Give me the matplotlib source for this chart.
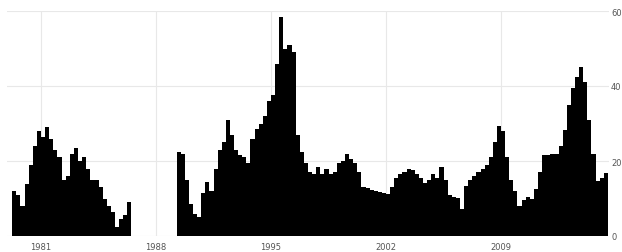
import matplotlib
matplotlib.use("Agg")
import matplotlib.pyplot as plt
import pandas as pd

# quarterly readings, two runs of data with a gap in the late 1980s
seg1_start = "1979Q2"
seg1_values = [12, 11, 8, 14, 19, 24, 28, 26.5, 29, 26, 23, 21, 15, 16, 22,
               23.5, 20, 21, 18, 15, 15, 13, 10, 8, 6.5, 2.5, 4.5, 5.5, 9]

seg2_start = "1989Q2"
seg2_values = [22.5, 22, 15, 8.5, 6, 5, 11.5, 14.5, 12, 18, 23, 25, 31, 27, 23,
               21.5, 21, 19.5, 26, 28.5, 30, 32, 36, 37.5, 46, 58.5, 50, 51, 49,
               27, 22.5, 19.5, 17, 16.5, 18.5, 16.5, 18, 16.5, 17, 19.5, 20, 22,
               20.5, 19.5, 17, 13, 12.7, 12.3, 12, 11.7, 11.6, 11.2, 13, 15.5,
               16.5, 17, 18, 17.5, 16.5, 15.5, 14.2, 15, 16.5, 15.5, 18.5, 15,
               11, 10.5, 10.2, 7.2, 13.4, 15, 16, 17, 18, 19, 21, 25, 29.4, 28,
               21, 15, 12, 8, 9.5, 10.4, 10, 12.5, 17, 21.5, 21.5, 21.8, 22, 24,
               28.4, 35, 39.5, 42.3, 45, 41, 31, 22, 14.7, 15.5, 16.7]

xticks = [1981, 1988, 1995, 2002, 2009]
yticks = [0, 20, 40, 60]


def quarter_years(start, n):
    p = pd.period_range(start, periods=n, freq="Q")
    return p.year + (p.quarter - 1) / 4.0


fig = plt.figure(figsize=(6.22, 2.53), dpi=100)
ax = fig.add_axes([7 / 622, 16 / 253, 602 / 622, 225 / 253])

for start, vals in [(seg1_start, seg1_values), (seg2_start, seg2_values)]:
    ax.bar(quarter_years(start, len(vals)), vals, width=0.25, align="edge",
           color="black", linewidth=0, zorder=2)

ax.set_xlim(1978.93, 2015.57)
ax.set_ylim(0, 60)
ax.set_xticks(xticks)
ax.set_yticks(yticks)
ax.yaxis.tick_right()
ax.grid(True, color="#e8e8e8", linewidth=0.8, zorder=0)
ax.tick_params(length=0, labelsize=6, labelcolor="#555555")
ax.tick_params(axis="y", pad=1.5)
ax.tick_params(axis="x", pad=4)
for s in ax.spines.values():
    s.set_visible(False)

fig.savefig("out.png", dpi=100)
